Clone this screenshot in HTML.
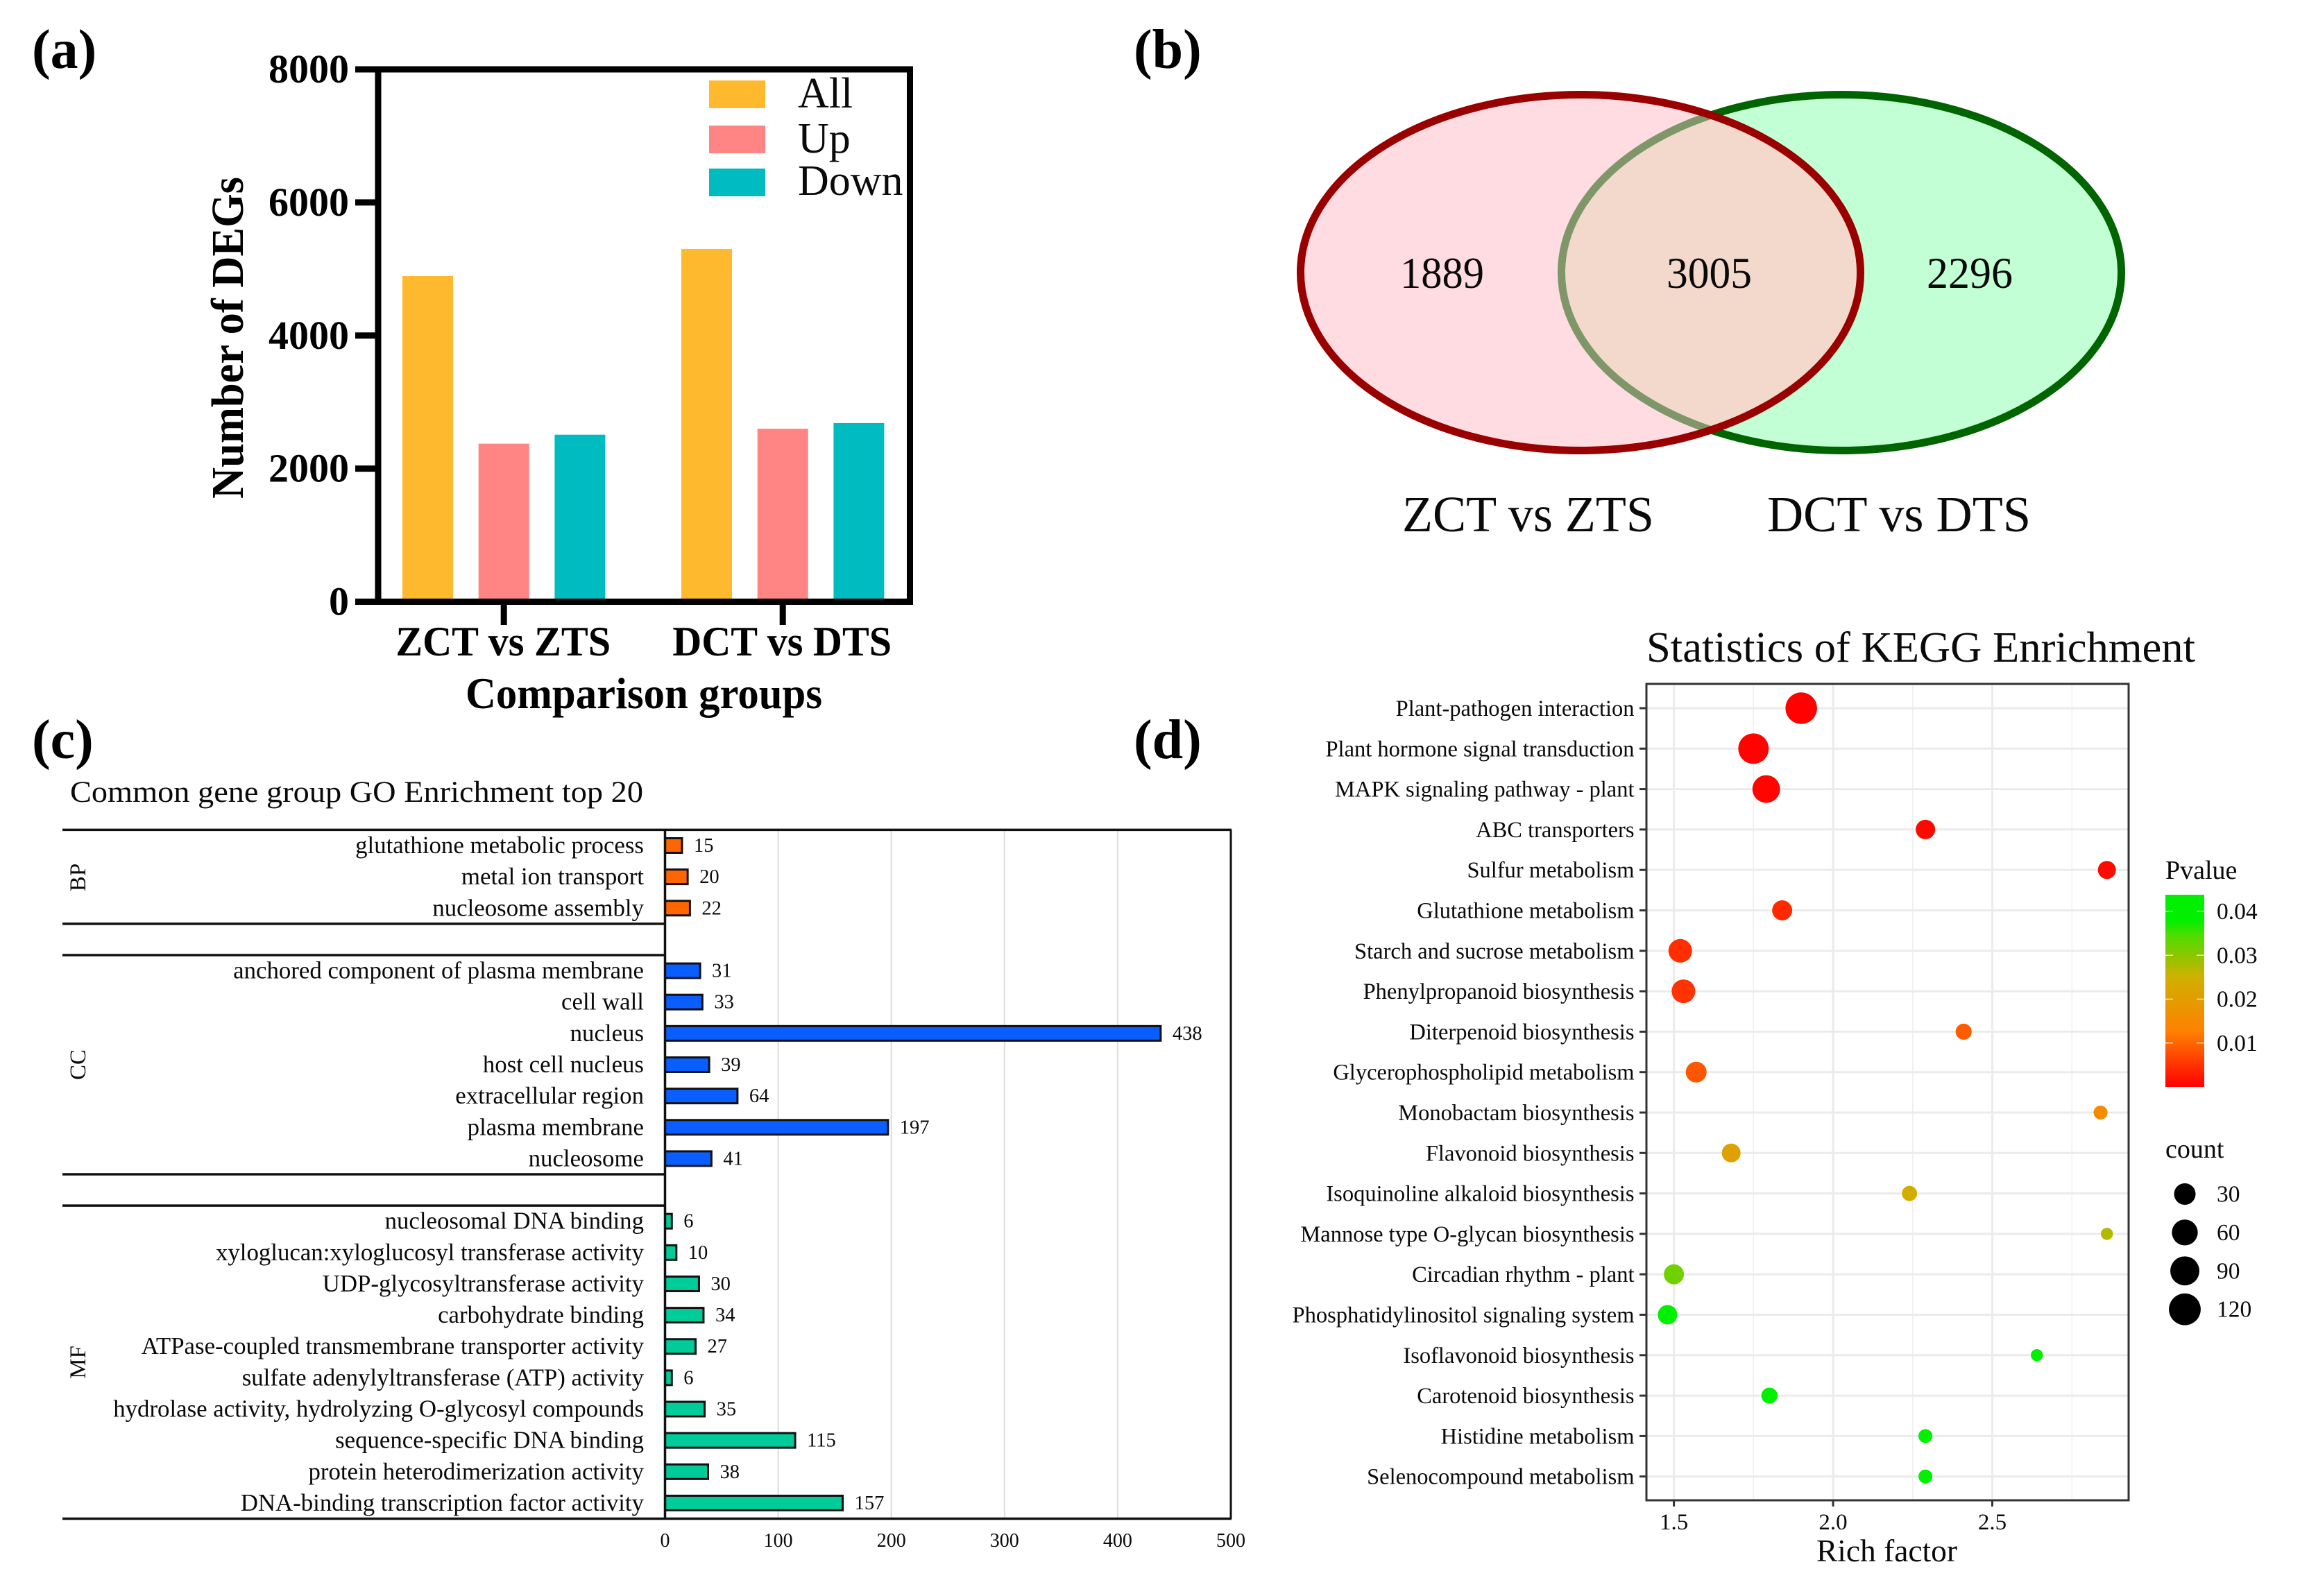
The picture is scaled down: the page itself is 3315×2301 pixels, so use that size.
<!DOCTYPE html>
<html lang="en">
<head>
<meta charset="utf-8">
<title>DEG analysis figure</title>
<style>
html,body{margin:0;padding:0;background:#fff;}
svg{display:block;}
text{font-family:"Liberation Serif","Times New Roman",serif;fill:#0a0a0a;}
.b{font-weight:bold;fill:#000;}
</style>
</head>
<body>
<svg id="fig" xmlns="http://www.w3.org/2000/svg" width="3315" height="2301" viewBox="0 0 3315 2301">
<rect x="0" y="0" width="3315" height="2301" fill="#ffffff"/>

<!-- Panel letters -->
<text class="b" x="46" y="98" font-size="80">(a)</text>
<text class="b" x="1634" y="98" font-size="80">(b)</text>
<text class="b" x="46" y="1093" font-size="80">(c)</text>
<text class="b" x="1634" y="1093" font-size="80">(d)</text>

<!-- Panel a static -->
<g id="panelA">
  <text class="b" transform="translate(350,487) rotate(-90)" text-anchor="middle" font-size="66" textLength="464" lengthAdjust="spacingAndGlyphs">Number of DEGs</text>
  <text class="b" x="671" y="1021" font-size="63" textLength="514" lengthAdjust="spacingAndGlyphs">Comparison groups</text>
  <rect x="1022" y="116" width="81" height="40" fill="#FFB92E"/>
  <rect x="1022" y="181" width="81" height="40" fill="#FF8585"/>
  <rect x="1022" y="243" width="81" height="40" fill="#00BBC0"/>
  <text x="1150" y="155" font-size="62">All</text>
  <text x="1150" y="220" font-size="62">Up</text>
  <text x="1150" y="281" font-size="62">Down</text>
</g>

<!-- Panel b Venn -->
<g id="panelB">
  <defs>
    <clipPath id="leftClip"><ellipse cx="2278" cy="393" rx="403.5" ry="256.5"/></clipPath>
  </defs>
  <ellipse cx="2654" cy="393" rx="403.5" ry="256.5" fill="#C2FFD4" stroke="#006400" stroke-width="11"/>
  <ellipse cx="2278" cy="393" rx="403.5" ry="256.5" fill="#FFDCE2"/>
  <ellipse cx="2654" cy="393" rx="403.5" ry="256.5" fill="#F2D9CC" stroke="#7F9668" stroke-width="11" clip-path="url(#leftClip)"/>
  <ellipse cx="2278" cy="393" rx="403.5" ry="256.5" fill="none" stroke="#990000" stroke-width="11"/>
  <text x="2018" y="415" font-size="63" textLength="121" lengthAdjust="spacingAndGlyphs">1889</text>
  <text x="2402" y="415" font-size="63" textLength="123" lengthAdjust="spacingAndGlyphs">3005</text>
  <text x="2777" y="415" font-size="63" textLength="124" lengthAdjust="spacingAndGlyphs">2296</text>
  <text x="2021" y="766" font-size="73" textLength="363" lengthAdjust="spacingAndGlyphs">ZCT vs ZTS</text>
  <text x="2547" y="766" font-size="73" textLength="380" lengthAdjust="spacingAndGlyphs">DCT vs DTS</text>
</g>

<!-- Panel c static -->
<g id="panelC">
  <text x="101" y="1156" font-size="43" textLength="826" lengthAdjust="spacingAndGlyphs" fill="#222">Common gene group GO Enrichment top 20</text>
  <text transform="translate(123,1265) rotate(-90)" text-anchor="middle" font-size="33">BP</text>
  <text transform="translate(123,1535) rotate(-90)" text-anchor="middle" font-size="33">CC</text>
  <text transform="translate(123,1964) rotate(-90)" text-anchor="middle" font-size="33">MF</text>
</g>

<!-- Panel d static -->
<g id="panelD">
  <text x="2373" y="954" font-size="62" textLength="791" lengthAdjust="spacingAndGlyphs">Statistics of KEGG Enrichment</text>
  <text x="2618" y="2251" font-size="45" textLength="203" lengthAdjust="spacingAndGlyphs">Rich factor</text>
  <text x="3121" y="1267" font-size="38">Pvalue</text>
  <text x="3121" y="1669" font-size="38">count</text>
</g>
</svg>

<script>
/* ---------- Panel a data ---------- */
var degGroups = ['ZCT vs ZTS', 'DCT vs DTS'];
var degAll = [4894, 5301];
var degUp = [2375, 2600];
var degDown = [2510, 2685];
var degYTicks = [0, 2000, 4000, 6000, 8000];

/* ---------- Panel c data ---------- */
var goCategories = ['BP','BP','BP',null,'CC','CC','CC','CC','CC','CC','CC',null,'MF','MF','MF','MF','MF','MF','MF','MF','MF','MF'];
var goTerms = ['glutathione metabolic process','metal ion transport','nucleosome assembly',null,
  'anchored component of plasma membrane','cell wall','nucleus','host cell nucleus','extracellular region','plasma membrane','nucleosome',null,
  'nucleosomal DNA binding','xyloglucan:xyloglucosyl transferase activity','UDP-glycosyltransferase activity','carbohydrate binding',
  'ATPase-coupled transmembrane transporter activity','sulfate adenylyltransferase (ATP) activity','hydrolase activity, hydrolyzing O-glycosyl compounds',
  'sequence-specific DNA binding','protein heterodimerization activity','DNA-binding transcription factor activity'];
var goCounts = [15,20,22,null,31,33,438,39,64,197,41,null,6,10,30,34,27,6,35,115,38,157];
var goTicks = [0,100,200,300,400,500];

/* ---------- Panel d data ---------- */
var keggTerms = ['Plant-pathogen interaction','Plant hormone signal transduction','MAPK signaling pathway - plant','ABC transporters','Sulfur metabolism','Glutathione metabolism','Starch and sucrose metabolism','Phenylpropanoid biosynthesis','Diterpenoid biosynthesis','Glycerophospholipid metabolism','Monobactam biosynthesis','Flavonoid biosynthesis','Isoquinoline alkaloid biosynthesis','Mannose type O-glycan biosynthesis','Circadian rhythm - plant','Phosphatidylinositol signaling system','Isoflavonoid biosynthesis','Carotenoid biosynthesis','Histidine metabolism','Selenocompound metabolism'];
var keggRich = [1.90,1.75,1.79,2.29,2.86,1.84,1.52,1.53,2.41,1.57,2.84,1.68,2.24,2.86,1.50,1.48,2.64,1.80,2.29,2.29];
var keggCount = [126,113,83,23,17,26,48,48,11,30,7,20,9,6,26,23,6,11,7,7];
var keggP = [0.0002,0.0003,0.0005,0.0008,0.001,0.004,0.0045,0.005,0.009,0.0085,0.0155,0.021,0.024,0.027,0.032,0.0385,0.039,0.04,0.041,0.042];
var keggXTicks = [1.5,2.0,2.5];
var keggXMinor = [1.75,2.25,2.75];
var pTicks = [0.01,0.02,0.03,0.04];
var countTicks = [30,60,90,120];
var pStops = [0,0.0125,0.025,0.0345,0.038,0.0438];
var pColors = ['#FF0000','#FF8000','#CFB000','#50DC00','#00F000','#00F000'];

var NS = 'http://www.w3.org/2000/svg';
var fig = document.getElementById('fig');
function mk(parent, tag, attrs, txt) {
  var el = document.createElementNS(NS, tag);
  for (var k in attrs) el.setAttribute(k, attrs[k]);
  if (txt !== undefined) el.textContent = txt;
  parent.appendChild(el);
  return el;
}
var el;

/* ---------- Panel a ---------- */
var pa = document.getElementById('panelA');
function aY(v) { return 867.5 - v * 767.5 / 8000; }
function aBarX(g, s) { return 580 + g * 402 + s * 109.7; }
var aSeries = [degAll, degUp, degDown];
var aColors = ['#FFB92E', '#FF8585', '#00BBC0'];
aSeries.forEach(function (vals, s) {
  vals.forEach(function (v, g) {
    var elBar = mk(pa, 'rect', {x: aBarX(g, s), y: aY(v), width: 73, height: aY(0) - aY(v), fill: aColors[s]});
    
    
  });
});
el = mk(pa, 'rect', {x: 545, y: aY(8000), width: 766.5, height: aY(0) - aY(8000), fill: 'none', stroke: '#000', 'stroke-width': 9});


degYTicks.forEach(function (t) {
  var tk = mk(pa, 'line', {x1: 512, x2: 545, y1: aY(t), y2: aY(t), stroke: '#000', 'stroke-width': 9});
  
  
  var lb = mk(pa, 'text', {x: 503, y: aY(t) + 19, 'text-anchor': 'end', 'font-size': 58, 'class': 'b'}, String(t));
  
  
});
degGroups.forEach(function (name, g) {
  var cx = aBarX(g, 1) + 36.5;
  var tk = mk(pa, 'line', {x1: cx, x2: cx, y1: 867, y2: 901, stroke: '#000', 'stroke-width': 9});
  
  
  var lb = mk(pa, 'text', {x: cx - 1, y: 945, 'text-anchor': 'middle', 'font-size': 60, 'class': 'b', textLength: g === 0 ? 310 : 316, lengthAdjust: 'spacingAndGlyphs'}, name);
  
  
});

/* ---------- Panel c ---------- */
var pc = document.getElementById('panelC');
function cX(v) { return 958.5 + v * 1.631; }
function cY(r) { return 1219 + r * 45.14; }
var cColors = {BP: '#FF6600', CC: '#0A5EFF', MF: '#00CC99'};
goTicks.forEach(function (t) {
  if (t > 0 && t < 500) {
    var g = mk(pc, 'line', {x1: cX(t), x2: cX(t), y1: 1196, y2: 2189, stroke: '#dcdcdc', 'stroke-width': 2});
    
    
  }
  var lb = mk(pc, 'text', {x: cX(t), y: 2230, 'text-anchor': 'middle', 'font-size': 28, fill: '#222'}, String(t));
  
  
});
goTerms.forEach(function (term, r) {
  if (term === null) return;
  var lb = mk(pc, 'text', {x: 928, y: cY(r) + 11, 'text-anchor': 'end', 'font-size': 34.85, fill: '#111'}, term);
  
  
  var bar = mk(pc, 'rect', {x: cX(0), y: cY(r) - 10.5, width: cX(goCounts[r]) - cX(0), height: 21, fill: cColors[goCategories[r]], stroke: '#111', 'stroke-width': 3});
  
  
  var vl = mk(pc, 'text', {x: cX(goCounts[r]) + 17, y: cY(r) + 9, 'font-size': 28.5, fill: '#222'}, String(goCounts[r]));
  
  
});
[2.5, 3.5, 10.5, 11.5].forEach(function (r) {
  var s = mk(pc, 'line', {x1: 90, x2: 958.5, y1: cY(r), y2: cY(r), stroke: '#111', 'stroke-width': 3.5});
  
  
});
el = mk(pc, 'line', {x1: 90, x2: 1775, y1: cY(-0.5), y2: cY(-0.5), stroke: '#111', 'stroke-width': 3.5});


el = mk(pc, 'line', {x1: 90, x2: 1775, y1: cY(21.5), y2: cY(21.5), stroke: '#111', 'stroke-width': 3.5});


el = mk(pc, 'line', {x1: cX(0), x2: cX(0), y1: cY(-0.5), y2: cY(21.5), stroke: '#111', 'stroke-width': 3.5});


el = mk(pc, 'line', {x1: cX(500), x2: cX(500), y1: cY(-0.5), y2: cY(21.5), stroke: '#111', 'stroke-width': 3});



/* ---------- Panel d ---------- */
var pd = document.getElementById('panelD');
function dX(v) { return 2412.6 + (v - 1.5) * 458.9; }
function dY(r) { return 1021 + r * 58.3; }
function dDiam(c) { return 17.5 + 28 * Math.sqrt((c - 6) / 120); }
function pY(p) { return 1567 - p * 6325; }
function hex2(c, i) { return parseInt(c.substr(1 + i * 2, 2), 16); }
function pColor(p) {
  var i = 0;
  while (i < pStops.length - 2 && p > pStops[i + 1]) i++;
  var t = Math.max(0, Math.min(1, (p - pStops[i]) / (pStops[i + 1] - pStops[i])));
  var out = [0, 1, 2].map(function (k) {
    return Math.round(hex2(pColors[i], k) + (hex2(pColors[i + 1], k) - hex2(pColors[i], k)) * t);
  });
  return 'rgb(' + out.join(',') + ')';
}
keggXMinor.forEach(function (t) {
  var g = mk(pd, 'line', {x1: dX(t), x2: dX(t), y1: 986, y2: 2163, stroke: '#EFEFEF', 'stroke-width': 1.5});
  
  
});
keggXTicks.forEach(function (t) {
  var g = mk(pd, 'line', {x1: dX(t), x2: dX(t), y1: 986, y2: 2163, stroke: '#EBEBEB', 'stroke-width': 3});
  
  
  var tk = mk(pd, 'line', {x1: dX(t), x2: dX(t), y1: 2163, y2: 2172, stroke: '#333', 'stroke-width': 3});
  
  
  var lb = mk(pd, 'text', {x: dX(t), y: 2205, 'text-anchor': 'middle', 'font-size': 33}, t.toFixed(1));
  
  
});
keggTerms.forEach(function (term, r) {
  var g = mk(pd, 'line', {x1: 2373, x2: 3068, y1: dY(r), y2: dY(r), stroke: '#EBEBEB', 'stroke-width': 3});
  
  
  var tk = mk(pd, 'line', {x1: 2363, x2: 2373, y1: dY(r), y2: dY(r), stroke: '#333', 'stroke-width': 3});
  
  
  var lb = mk(pd, 'text', {x: 2355.5, y: dY(r) + 11, 'text-anchor': 'end', 'font-size': 32.5}, term);
  
  
});
keggTerms.forEach(function (term, r) {
  var pt = mk(pd, 'circle', {cx: dX(keggRich[r]), cy: dY(r), r: dDiam(keggCount[r]) / 2, fill: pColor(keggP[r])});
  
  
});
el = mk(pd, 'rect', {x: 2373, y: 986, width: 695, height: 1177, fill: 'none', stroke: '#333', 'stroke-width': 3});



/* colour bar */
var defs = mk(fig, 'defs', {});
var grad = mk(defs, 'linearGradient', {id: 'pGrad', x1: 0, y1: 1, x2: 0, y2: 0});
pStops.forEach(function (p, i) {
  mk(grad, 'stop', {offset: p / 0.0438, 'stop-color': pColors[i]});
});
el = mk(pd, 'rect', {x: 3121, y: pY(0.0438), width: 56, height: pY(0) - pY(0.0438), fill: 'url(#pGrad)'});


pTicks.forEach(function (p) {
  var a = mk(pd, 'line', {x1: 3121, x2: 3132, y1: pY(p), y2: pY(p), stroke: '#fff', 'stroke-width': 1.5, opacity: 0.8});
  
  
  var b = mk(pd, 'line', {x1: 3166, x2: 3177, y1: pY(p), y2: pY(p), stroke: '#fff', 'stroke-width': 1.5, opacity: 0.8});
  
  
  var lb = mk(pd, 'text', {x: 3195, y: pY(p) + 11, 'font-size': 33.5}, p.toFixed(2));
  
  
});
/* size legend */
countTicks.forEach(function (c, i) {
  var cy = 1721.5 + i * 55.4;
  var dot = mk(pd, 'circle', {cx: 3149, cy: cy, r: dDiam(c) / 2 + 0.5, fill: '#000'});
  
  
  var lb = mk(pd, 'text', {x: 3195, y: cy + 11, 'font-size': 33.5}, String(c));
  
  
});
</script>
</body>
</html>
